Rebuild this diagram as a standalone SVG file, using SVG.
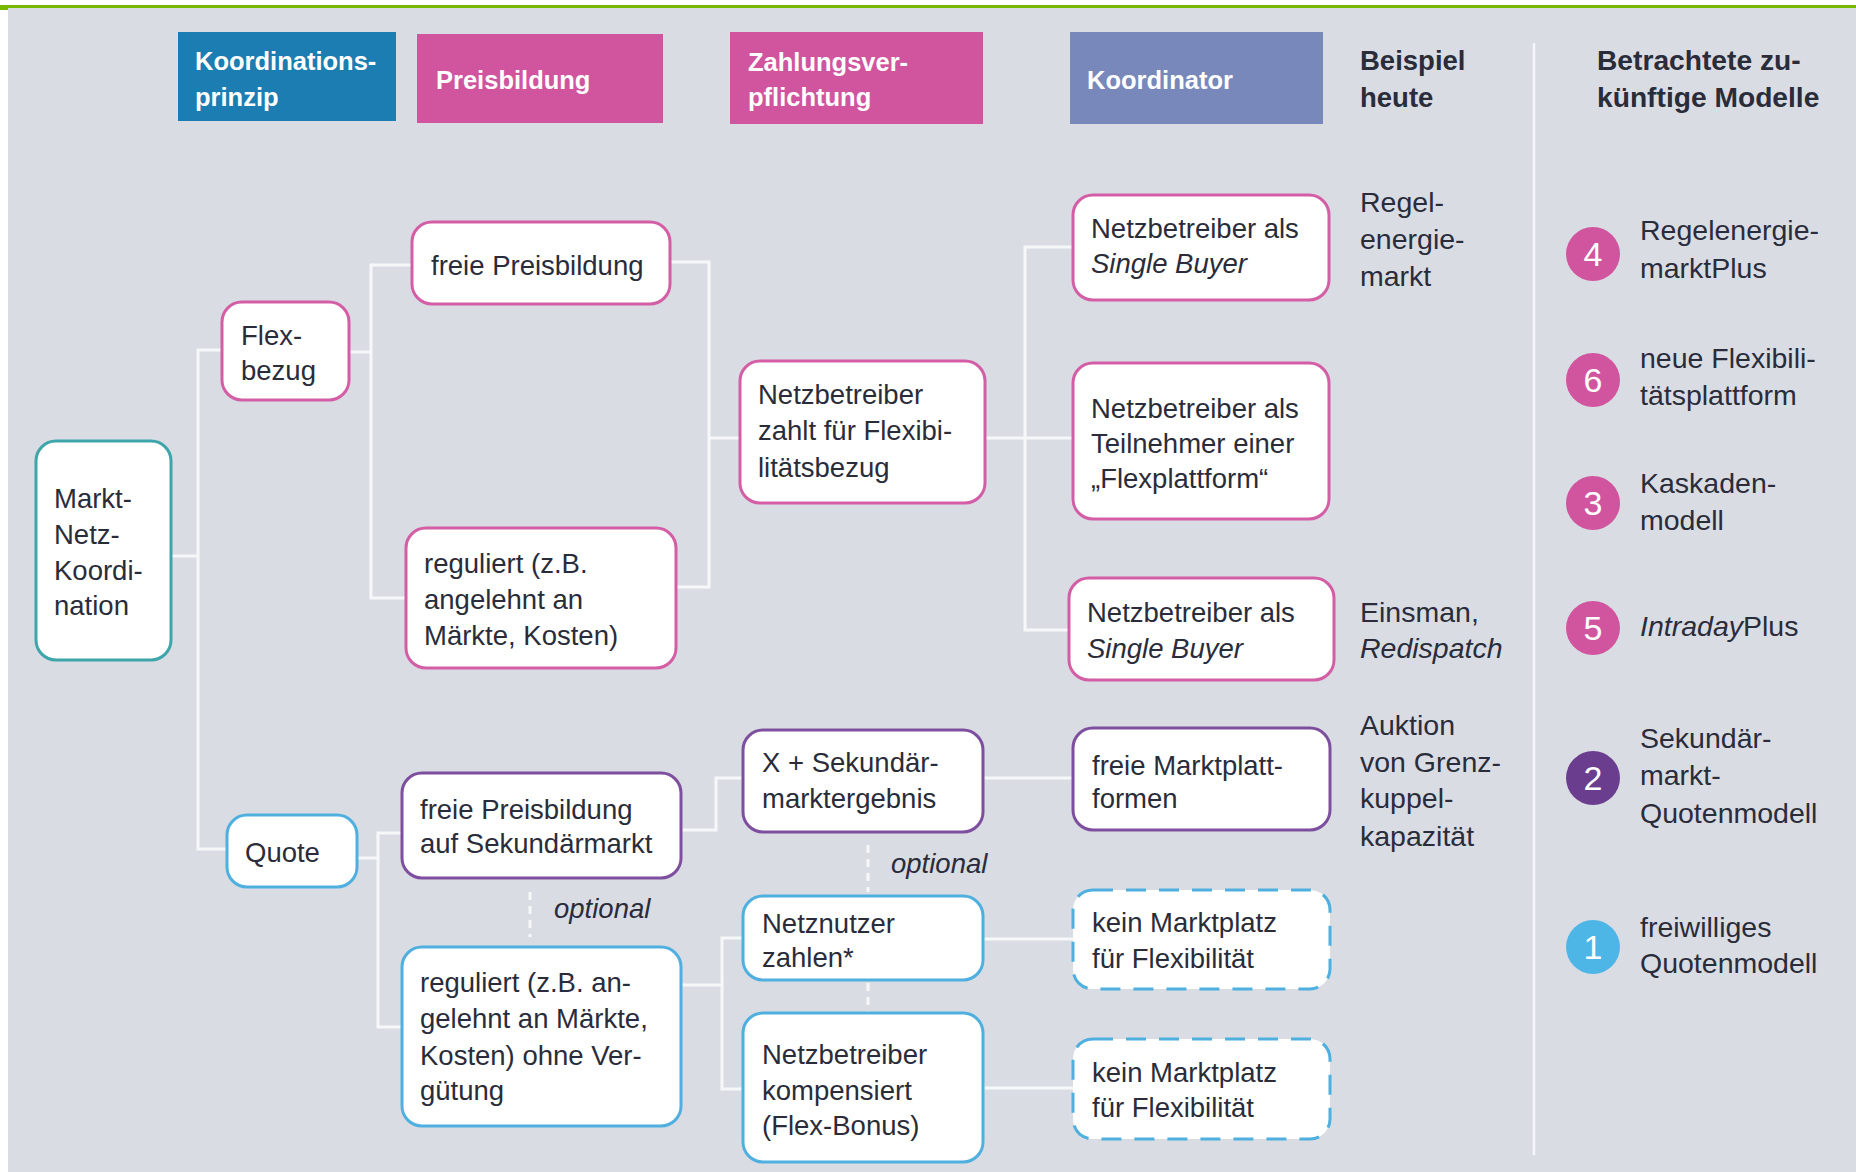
<svg xmlns="http://www.w3.org/2000/svg" width="1856" height="1172" viewBox="0 0 1856 1172">
  <defs>
    <style>
      text { font-family: "Liberation Sans", Arial, sans-serif; fill: #2a2c3a; }
      .t { font-size: 27.5px; }
      .side { font-size: 28.5px; }
      .hb { font-size: 25.5px; font-weight: bold; fill: #ffffff; }
      .ch { font-size: 27.5px; font-weight: bold; }
      .ch2 { font-size: 28.2px; font-weight: bold; }
      .it { font-style: italic; }
      .num { font-size: 34px; fill: #ffffff; text-anchor: middle; }
      .node rect { fill: #ffffff; stroke-width: 3; }
      .pink rect { stroke: #d45ea6; }
      .purple rect { stroke: #7e4f9f; }
      .blue rect { stroke: #4fb0e0; }
      .teal rect { stroke: #3ea6aa; }
      .dash rect { stroke-dasharray: 20 13; }
      #connectors path { fill: none; stroke: #f6f7f9; stroke-width: 3; }
      #connectors .opt { stroke-dasharray: 8 6; }
    </style>
  </defs>

  <!-- page frame -->
  <rect x="0" y="0" width="1856" height="1172" fill="#ffffff"/>
  <rect x="8" y="8" width="1848" height="1164" fill="#d9dce3"/>
  <rect x="0" y="5" width="1856" height="3" fill="#79b800"/>
  <rect x="0" y="5" width="8" height="5" fill="#79b800"/>

  <!-- column headers -->
  <g id="header-koordinationsprinzip">
    <rect x="178" y="32" width="218" height="89" fill="#1b7db1"/>
    <text class="hb" x="195" y="70">Koordinations-</text>
    <text class="hb" x="195" y="106">prinzip</text>
  </g>
  <g id="header-preisbildung">
    <rect x="417" y="34" width="246" height="89" fill="#d0559e"/>
    <text class="hb" x="436" y="89">Preisbildung</text>
  </g>
  <g id="header-zahlung">
    <rect x="730" y="32" width="253" height="92" fill="#d0559e"/>
    <text class="hb" x="748" y="71">Zahlungsver-</text>
    <text class="hb" x="748" y="106">pflichtung</text>
  </g>
  <g id="header-koordinator">
    <rect x="1070" y="32" width="253" height="92" fill="#7888ba"/>
    <text class="hb" x="1087" y="89">Koordinator</text>
  </g>
  <g id="header-beispiel">
    <text class="ch" x="1360" y="70">Beispiel</text>
    <text class="ch" x="1360" y="107">heute</text>
  </g>
  <g id="header-modelle">
    <text class="ch2" x="1597" y="70">Betrachtete zu-</text>
    <text class="ch2" x="1597" y="107">künftige Modelle</text>
  </g>

  <!-- divider between examples and models -->
  <line x1="1534" y1="43" x2="1534" y2="1155" stroke="#f6f7f9" stroke-width="2.5"/>

  <!-- connectors -->
  <g id="connectors">
    <path d="M171,556 H198"/>
    <path d="M222,350 H198 V849 H227"/>
    <path d="M349,352 H371"/>
    <path d="M412,265 H371 V598 H406"/>
    <path d="M670,262 H709 V587 H676"/>
    <path d="M709,438 H740"/>
    <path d="M985,438 H1073"/>
    <path d="M1073,247 H1025 V630 H1069"/>
    <path d="M357,858 H378"/>
    <path d="M402,833 H378 V1027 H402"/>
    <path d="M681,830 H716 V778 H743"/>
    <path d="M681,985 H722"/>
    <path d="M743,938 H722 V1089 H743"/>
    <path d="M983,778 H1073"/>
    <path d="M983,939 H1073"/>
    <path d="M983,1088 H1073"/>
    <path class="opt" d="M530,892 V937"/>
    <path class="opt" d="M868,845 V892"/>
    <path class="opt" d="M868,983 V1013"/>
  </g>

  <!-- optional labels -->
  <text class="t it" x="554" y="918">optional</text>
  <text class="t it" x="891" y="873">optional</text>

  <!-- tree nodes -->
  <g id="markt-netz-koordination" class="node teal">
    <rect x="36" y="441" width="135" height="219" rx="20"/>
    <text class="t" x="54" y="508">Markt-</text>
    <text class="t" x="54" y="544">Netz-</text>
    <text class="t" x="54" y="580">Koordi-</text>
    <text class="t" x="54" y="615">nation</text>
  </g>
  <g id="flexbezug" class="node pink">
    <rect x="222" y="302" width="127" height="98" rx="20"/>
    <text class="t" x="241" y="345">Flex-</text>
    <text class="t" x="241" y="380">bezug</text>
  </g>
  <g id="freie-preisbildung" class="node pink">
    <rect x="412" y="222" width="258" height="82" rx="20"/>
    <text class="t" x="431" y="275">freie Preisbildung</text>
  </g>
  <g id="reguliert" class="node pink">
    <rect x="406" y="528" width="270" height="140" rx="20"/>
    <text class="t" x="424" y="573">reguliert (z.B.</text>
    <text class="t" x="424" y="609">angelehnt an</text>
    <text class="t" x="424" y="645">Märkte, Kosten)</text>
  </g>
  <g id="netzbetreiber-zahlt" class="node pink">
    <rect x="740" y="361" width="245" height="142" rx="20"/>
    <text class="t" x="758" y="404">Netzbetreiber</text>
    <text class="t" x="758" y="440">zahlt für Flexibi-</text>
    <text class="t" x="758" y="477">litätsbezug</text>
  </g>
  <g id="single-buyer-1" class="node pink">
    <rect x="1073" y="195" width="256" height="105" rx="20"/>
    <text class="t" x="1091" y="238">Netzbetreiber als</text>
    <text class="t it" x="1091" y="273">Single Buyer</text>
  </g>
  <g id="flexplattform" class="node pink">
    <rect x="1073" y="363" width="256" height="156" rx="20"/>
    <text class="t" x="1091" y="418">Netzbetreiber als</text>
    <text class="t" x="1091" y="453">Teilnehmer einer</text>
    <text class="t" x="1091" y="488">„Flexplattform“</text>
  </g>
  <g id="single-buyer-2" class="node pink">
    <rect x="1069" y="578" width="265" height="102" rx="20"/>
    <text class="t" x="1087" y="622">Netzbetreiber als</text>
    <text class="t it" x="1087" y="658">Single Buyer</text>
  </g>
  <g id="quote" class="node blue">
    <rect x="227" y="815" width="130" height="72" rx="20"/>
    <text class="t" x="245" y="862">Quote</text>
  </g>
  <g id="sekundaermarkt" class="node purple">
    <rect x="402" y="773" width="279" height="105" rx="20"/>
    <text class="t" x="420" y="819">freie Preisbildung</text>
    <text class="t" x="420" y="853">auf Sekundärmarkt</text>
  </g>
  <g id="reguliert-ohne-verguetung" class="node blue">
    <rect x="402" y="947" width="279" height="179" rx="20"/>
    <text class="t" x="420" y="992">reguliert (z.B. an-</text>
    <text class="t" x="420" y="1028">gelehnt an Märkte,</text>
    <text class="t" x="420" y="1065">Kosten) ohne Ver-</text>
    <text class="t" x="420" y="1100">gütung</text>
  </g>
  <g id="x-sekundaer" class="node purple">
    <rect x="743" y="730" width="240" height="102" rx="20"/>
    <text class="t" x="762" y="772">X + Sekundär-</text>
    <text class="t" x="762" y="808">marktergebnis</text>
  </g>
  <g id="netznutzer" class="node blue">
    <rect x="743" y="896" width="240" height="84" rx="20"/>
    <text class="t" x="762" y="933">Netznutzer</text>
    <text class="t" x="762" y="967">zahlen*</text>
  </g>
  <g id="flex-bonus" class="node blue">
    <rect x="743" y="1013" width="240" height="149" rx="20"/>
    <text class="t" x="762" y="1064">Netzbetreiber</text>
    <text class="t" x="762" y="1100">kompensiert</text>
    <text class="t" x="762" y="1135">(Flex-Bonus)</text>
  </g>
  <g id="marktplattformen" class="node purple">
    <rect x="1073" y="728" width="257" height="102" rx="20"/>
    <text class="t" x="1092" y="775">freie Marktplatt-</text>
    <text class="t" x="1092" y="808">formen</text>
  </g>
  <g id="kein-marktplatz-1" class="node blue dash">
    <rect x="1073" y="890" width="257" height="99" rx="20"/>
    <text class="t" x="1092" y="932">kein Marktplatz</text>
    <text class="t" x="1092" y="968">für Flexibilität</text>
  </g>
  <g id="kein-marktplatz-2" class="node blue dash">
    <rect x="1073" y="1039" width="257" height="100" rx="20"/>
    <text class="t" x="1092" y="1082">kein Marktplatz</text>
    <text class="t" x="1092" y="1117">für Flexibilität</text>
  </g>

  <!-- examples today -->
  <g id="beispiel-regelenergie">
    <text class="side" x="1360" y="212">Regel-</text>
    <text class="side" x="1360" y="249">energie-</text>
    <text class="side" x="1360" y="286">markt</text>
  </g>
  <g id="beispiel-einsman">
    <text class="side" x="1360" y="622">Einsman,</text>
    <text class="side it" x="1360" y="658">Redispatch</text>
  </g>
  <g id="beispiel-auktion">
    <text class="side" x="1360" y="735">Auktion</text>
    <text class="side" x="1360" y="772">von Grenz-</text>
    <text class="side" x="1360" y="808">kuppel-</text>
    <text class="side" x="1360" y="846">kapazität</text>
  </g>

  <!-- future models -->
  <g id="modell-4">
    <circle cx="1593" cy="254" r="27" fill="#d0559e"/>
    <text class="num" x="1593" y="266">4</text>
    <text class="side" x="1640" y="240">Regelenergie-</text>
    <text class="side" x="1640" y="278">marktPlus</text>
  </g>
  <g id="modell-6">
    <circle cx="1593" cy="380" r="27" fill="#d0559e"/>
    <text class="num" x="1593" y="392">6</text>
    <text class="side" x="1640" y="368">neue Flexibili-</text>
    <text class="side" x="1640" y="405">tätsplattform</text>
  </g>
  <g id="modell-3">
    <circle cx="1593" cy="503" r="27" fill="#d0559e"/>
    <text class="num" x="1593" y="515">3</text>
    <text class="side" x="1640" y="493">Kaskaden-</text>
    <text class="side" x="1640" y="530">modell</text>
  </g>
  <g id="modell-5">
    <circle cx="1593" cy="628" r="27" fill="#d0559e"/>
    <text class="num" x="1593" y="640">5</text>
    <text class="side" x="1640" y="636"><tspan class="it">Intraday</tspan>Plus</text>
  </g>
  <g id="modell-2">
    <circle cx="1593" cy="778" r="27" fill="#6a3d8f"/>
    <text class="num" x="1593" y="790">2</text>
    <text class="side" x="1640" y="748">Sekundär-</text>
    <text class="side" x="1640" y="785">markt-</text>
    <text class="side" x="1640" y="823">Quotenmodell</text>
  </g>
  <g id="modell-1">
    <circle cx="1593" cy="947" r="27" fill="#4db6e6"/>
    <text class="num" x="1593" y="959">1</text>
    <text class="side" x="1640" y="937">freiwilliges</text>
    <text class="side" x="1640" y="973">Quotenmodell</text>
  </g>
</svg>
